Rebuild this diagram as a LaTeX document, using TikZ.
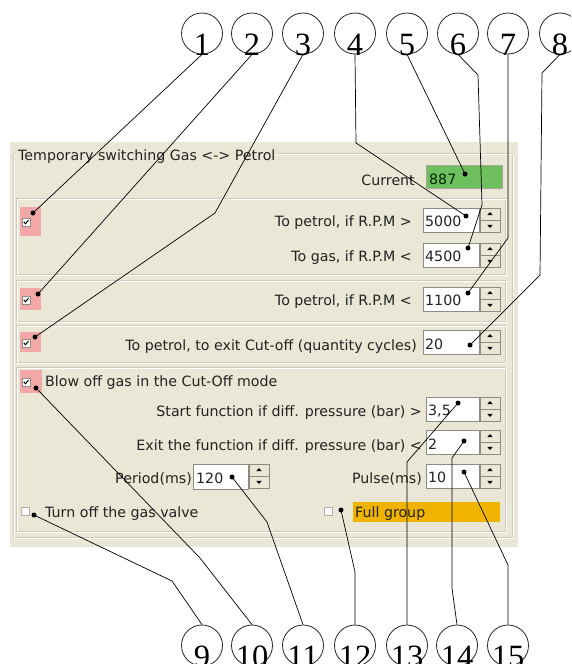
\documentclass[tikz,border=0pt]{standalone}
\usepackage{fontspec}
\setmainfont{DejaVu Sans}
\newfontfamily\digitfont{Liberation Serif}
\definecolor{bg}{HTML}{EAE7D7}
\definecolor{etchd}{HTML}{CFCBBB}
\definecolor{pinkc}{HTML}{F2A8A7}
\definecolor{greenc}{HTML}{6EBF5E}
\definecolor{orangec}{HTML}{F0B400}
\definecolor{txt}{HTML}{222222}
\definecolor{edgec}{HTML}{8E8C82}
\newcommand\cnum[1]{\raisebox{-22pt}[0pt][0pt]{#1}}
\begin{document}
\begin{tikzpicture}[x=1pt,y=-1pt,
  gui/.style={font=\fontsize{14.2}{17}\selectfont, text=txt, inner sep=0pt},
  lead/.style={draw=black, line width=0.7pt},
  dot/.style={circle, fill=black, inner sep=0pt, minimum size=5pt},
  numc/.style={circle, draw=black!85, line width=0.8pt, minimum size=41pt, inner sep=0pt,
    font=\digitfont\fontsize{32.5}{34}\selectfont},
  etch/.style={draw=etchd, line width=0.8pt},
  etchw/.style={draw=white, line width=0.8pt},
  field/.style={draw=edgec, fill=white, line width=0.8pt},
  btn/.style={draw=edgec, fill=bg, line width=0.6pt},
  spin/.pic={
    \draw[btn] (0,0) rectangle (20,12);
    \draw[btn] (0,12) rectangle (20,24);
    \fill[black] (10,4) -- (12.8,7.2) -- (7.2,7.2) -- cycle;
    \fill[black] (10,20) -- (12.8,16.8) -- (7.2,16.8) -- cycle;
  },
  chk/.pic={
    \draw[draw=edgec, fill=white, line width=0.6pt] (0,0) rectangle (8,8);
    \draw[line width=1pt, black] (1.8,3.8) -- (3.4,5.8) -- (6.4,2.2);
  },
  unchk/.pic={
    \draw[draw=edgec!70, fill=white, line width=0.6pt] (0,0) rectangle (8,8);
  }
]
\useasboundingbox (0,0) rectangle (571,664);
\clip (0,0) rectangle (571,664);
\fill[white] (0,0) rectangle (571,664);

% panel
\fill[bg] (10,142) rectangle (518,547);
\draw[etch] (13,153) rectangle (512,537);
\draw[etchw] (14,154) rectangle (513,538);
\node[gui, anchor=base west, fill=bg, inner xsep=2pt, inner ysep=2pt] (title) at (16,160.5) {Temporary switching Gas <-> Petrol};

% group boxes
\draw[etch] (16,198) rectangle (505,274);
\draw[etchw] (17,199) rectangle (506,275);
\draw[etch] (16,280) rectangle (505,321);
\draw[etchw] (17,281) rectangle (506,322);
\draw[etch] (16,325) rectangle (505,362);
\draw[etchw] (17,326) rectangle (506,363);
\draw[etch] (16,367) rectangle (505,531);
\draw[etchw] (17,368) rectangle (506,532);

% pink checkbox backgrounds
\fill[pinkc] (20,207) rectangle (41,236);
\fill[pinkc] (20,288) rectangle (41,310);
\fill[pinkc] (20,332) rectangle (41,352);
\fill[pinkc] (20,370) rectangle (42,393);
\pic at (22,218) {chk};
\pic at (22,296) {chk};
\pic at (22,339) {chk};
\pic at (22,378) {chk};
\pic at (21,507) {unchk};
\pic at (324,507) {unchk};

% current
\node[gui, anchor=base east] (lcur) at (415,185) {Current};
\filldraw[draw=edgec!80, fill=greenc, line width=0.8pt] (426,165) rectangle (502,188);
\node[gui, anchor=base west, text=black!85!green] (vcur) at (429,184.5) {887};

% row: to petrol >
\node[gui, anchor=base east] (l1) at (412,226) {To petrol, if R.P.M >};
\draw[field] (423,208) rectangle (479,232);
\node[gui, anchor=base west] (v1) at (425,226) {5000};
\pic at (480,208) {spin};

\node[gui, anchor=base east] (l2) at (412,261) {To gas, if R.P.M <};
\draw[field] (423,243) rectangle (479,267);
\node[gui, anchor=base west] (v2) at (425,261) {4500};
\pic at (480,243) {spin};

\node[gui, anchor=base east] (l3) at (412,305) {To petrol, if R.P.M <};
\draw[field] (423,287) rectangle (479,311);
\node[gui, anchor=base west] (v3) at (425,305) {1100};
\pic at (480,287) {spin};

\node[gui, anchor=base east] (l4) at (417,350) {To petrol, to exit Cut-off (quantity cycles)};
\draw[field] (423,330) rectangle (479,354);
\node[gui, anchor=base west] (v4) at (425,349) {20};
\pic at (480,330) {spin};

% group D
\node[gui, anchor=base west] (lblow) at (45,386.5) {Blow off gas in the Cut-Off mode};
\node[gui, anchor=base east] (l5) at (422,416) {Start function if diff. pressure (bar) >};
\draw[field] (426,397) rectangle (479,421);
\node[gui, anchor=base west] (v5) at (428,415) {3,5};
\pic at (480,397) {spin};

\node[gui, anchor=base east] (l6) at (422,450) {Exit the function if diff. pressure (bar) <};
\draw[field] (426,430) rectangle (479,454);
\node[gui, anchor=base west] (v6) at (428,449) {2};
\pic at (480,430) {spin};

\node[gui, anchor=base east] (l7) at (422,483) {Pulse(ms)};
\draw[field] (426,464) rectangle (479,488);
\node[gui, anchor=base west] (v7) at (428,482) {10};
\pic at (480,464) {spin};

\node[gui, anchor=base east] (l8) at (192,483) {Period(ms)};
\draw[field] (193,464) rectangle (248,489);
\node[gui, anchor=base west] (v8) at (196,483) {120};
\pic at (249,464) {spin};

\node[gui, anchor=base west] (lturn) at (45,517) {Turn off the gas valve};
\fill[orangec] (353,502) rectangle (500,522);
\node[gui, anchor=base west] (lfull) at (355,517) {Full group};

% numbered circles
\node[numc] (c1) at (202,33.5) {\cnum{1}};
\node[numc] (c2) at (252,33.5) {\cnum{2}};
\node[numc] (c3) at (303,33.5) {\cnum{3}};
\node[numc] (c4) at (355,33.5) {\cnum{4}};
\node[numc] (c5) at (407,33.5) {\cnum{5}};
\node[numc] (c6) at (458,33.5) {\cnum{6}};
\node[numc] (c7) at (508,33.5) {\cnum{7}};
\node[numc] (c8) at (560,33.5) {\cnum{8}};
\node[numc] (c9) at (202,645.5) {\cnum{9}};
\node[numc] (c10) at (252,645.5) {\cnum{10}};
\node[numc] (c11) at (303,645.5) {\cnum{11}};
\node[numc] (c12) at (355,645.5) {\cnum{12}};
\node[numc] (c13) at (407,645.5) {\cnum{13}};
\node[numc] (c14) at (457,645.5) {\cnum{14}};
\node[numc] (c15) at (508,645.5) {\cnum{15}};

% dots
\node[dot] (d1) at (33,213) {};
\node[dot] (d2) at (38,294) {};
\node[dot] (d3) at (35,337) {};
\node[dot] (d4) at (466,216) {};
\node[dot] (d5) at (465,174) {};
\node[dot] (d6) at (468,248) {};
\node[dot] (d7) at (468,293) {};
\node[dot] (d8) at (470,345) {};
\node[dot] (d9) at (34,515) {};
\node[dot] (d10) at (36,388) {};
\node[dot] (d11) at (232,477) {};
\node[dot] (d12) at (341,510) {};
\node[dot] (d13) at (458,403) {};
\node[dot] (d14) at (464,441) {};
\node[dot] (d15) at (464,472) {};

% bends
\coordinate (b3) at (215,213);
\coordinate (b4) at (356,143);
\coordinate (b6a) at (478,75);
\coordinate (b6b) at (482,205);
\coordinate (b7) at (508,238);
\coordinate (b8a) at (542,73);
\coordinate (b8b) at (540,275);
\coordinate (b9) at (172,581);
\coordinate (b10) at (200,558);
\coordinate (b11) at (267,522);
\coordinate (b12) at (355,572);
\coordinate (b13) at (407,462);
\coordinate (b14a) at (452,458);
\coordinate (b14b) at (452,588);
\coordinate (b15) at (508,565);

% leaders
\draw[lead] (c1.south) -- (d1.center);
\draw[lead] (c2.south) -- (d2.center);
\draw[lead] (c3.south) -- (b3) -- (d3.center);
\draw[lead] (c4.south) -- (b4) -- (d4.center);
\draw[lead] (c5.south) -- (d5.center);
\draw[lead] (c6.south) -- (b6a) -- (b6b) -- (d6.center);
\draw[lead] (c7.south) -- (b7) -- (d7.center);
\draw[lead] (c8.south) -- (b8a) -- (b8b) -- (d8.center);
\draw[lead] (d9.center) -- (b9) -- (c9.north);
\draw[lead] (d10.center) -- (b10) -- (c10.north);
\draw[lead] (d11.center) -- (b11) -- (c11.north);
\draw[lead] (d12.center) -- (b12) -- (c12.north);
\draw[lead] (d13.center) -- (b13) -- (c13.north);
\draw[lead] (d14.center) -- (b14a) -- (b14b) -- (c14.north);
\draw[lead] (d15.center) -- (b15) -- (c15.north);
\end{tikzpicture}
\end{document}
